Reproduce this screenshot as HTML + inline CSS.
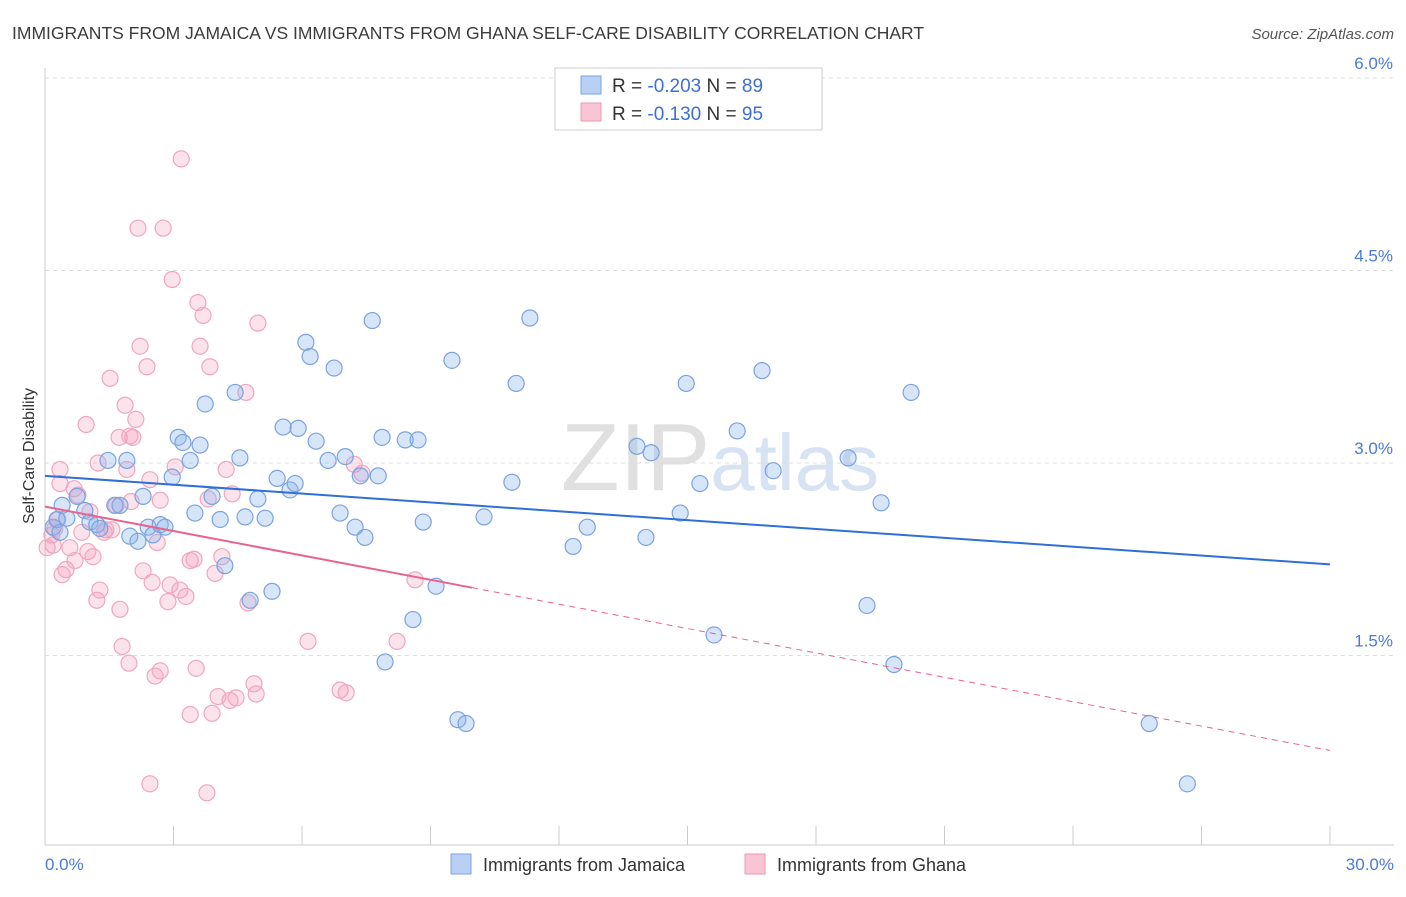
<!DOCTYPE html>
<html><head><meta charset="utf-8"><style>
body{margin:0;background:#fff;width:1406px;height:892px;overflow:hidden;font-family:"Liberation Sans",sans-serif}
svg text{font-family:"Liberation Sans",sans-serif}
</style></head><body>
<svg id="chart" width="1406" height="892" xmlns="http://www.w3.org/2000/svg">
<text x="12" y="39" font-size="17.5" fill="#3c3c3c">IMMIGRANTS FROM JAMAICA VS IMMIGRANTS FROM GHANA SELF-CARE DISABILITY CORRELATION CHART</text>
<text x="1394" y="39" font-size="15" fill="#555" font-style="italic" text-anchor="end">Source: ZipAtlas.com</text>
<text x="720" y="490" font-size="96" fill="#e4e4e4" text-anchor="middle" font-family="Liberation Serif"><tspan fill="#e0e0e0">ZIP</tspan><tspan fill="#d7e3f3" font-family="Liberation Sans" font-size="80">atlas</tspan></text>
<g id="grid"></g>
<line x1="45" y1="68" x2="45" y2="845" stroke="#ccc"/>
<line x1="45" y1="845" x2="1394" y2="845" stroke="#ccc"/>
<g id="ticks"></g>
<text transform="translate(34,456) rotate(-90)" font-size="16" fill="#333" text-anchor="middle">Self-Care Disability</text>
<text x="45" y="870" font-size="17" fill="#4a7bd8">0.0%</text>
<text x="1394" y="870" font-size="17" fill="#4a7bd8" text-anchor="end">30.0%</text>
<g id="pts"></g>
<g id="lines"></g>
<g>
<rect x="555" y="68" width="267" height="62" fill="#fff" stroke="#ccc"/>
<rect x="581" y="76" width="20" height="18" fill="#b8d0f3" stroke="#7aa3e0"/>
<rect x="581" y="103" width="20" height="18" fill="#f9c4d4" stroke="#eb9ab3"/>
<text x="612" y="92" font-size="19" fill="#333">R = <tspan fill="#3d6fd6">-0.203</tspan>   N = <tspan fill="#3d6fd6">89</tspan></text>
<text x="612" y="120" font-size="19" fill="#333">R =  <tspan fill="#3d6fd6">-0.130</tspan>   N = <tspan fill="#3d6fd6">95</tspan></text>
</g>
<g>
<rect x="451" y="854" width="20" height="20" fill="#b8d0f3" stroke="#7aa3e0"/>
<text x="483" y="871" font-size="18" fill="#333">Immigrants from Jamaica</text>
<rect x="745" y="854" width="20" height="20" fill="#f9c4d4" stroke="#eb9ab3"/>
<text x="777" y="871" font-size="18" fill="#333">Immigrants from Ghana</text>
</g>
</svg>
<script>
const yTicks=[1.5,3.0,4.5,6.0];
const xTickVals=[0,3,6,9,12,15,18,21,24,27,30];
const jamX=[0.19,0.28,0.35,0.40,0.51,0.75,0.93,1.05,1.21,1.28,1.47,1.63,1.75,1.91,1.98,2.17,2.29,2.41,2.52,2.69,2.80,2.97,3.11,3.22,3.39,3.50,3.62,3.74,3.90,4.09,4.20,4.44,4.55,4.67,4.79,4.97,5.14,5.30,5.42,5.56,5.72,5.84,5.91,6.09,6.19,6.33,6.61,6.75,6.89,7.01,7.24,7.36,7.47,7.64,7.78,7.87,7.94,8.41,8.59,8.71,8.83,9.13,9.50,9.64,9.83,10.25,10.90,11.00,11.32,12.33,12.66,13.82,14.03,14.15,14.83,14.97,15.29,15.62,16.16,16.74,17.00,18.75,19.19,19.52,19.82,20.22,25.78,26.67];
const jamY=[2.50,2.56,2.46,2.67,2.57,2.74,2.63,2.54,2.52,2.49,3.02,2.67,2.67,3.02,2.43,2.39,2.74,2.50,2.44,2.52,2.50,2.89,3.20,3.16,3.02,2.61,3.14,3.46,2.74,2.56,2.20,3.55,3.04,2.58,1.93,2.72,2.57,2.00,2.88,3.28,2.79,2.84,3.27,3.94,3.83,3.17,3.02,3.74,2.61,3.05,2.50,2.90,2.42,4.11,2.90,3.20,1.45,3.18,1.78,3.18,2.54,2.04,3.80,1.00,0.97,2.58,2.85,3.62,4.13,2.35,2.50,3.13,2.42,3.08,2.61,3.62,2.84,1.66,3.25,3.72,2.94,3.04,1.89,2.69,1.43,3.55,0.97,0.50];
const ghaX=[0.16,0.19,0.23,0.30,0.35,0.40,0.49,0.58,0.68,0.77,0.86,0.96,1.00,1.05,1.12,1.21,1.24,1.28,1.38,1.42,1.52,1.56,1.66,1.75,1.80,1.87,1.91,1.96,2.01,2.05,2.12,2.17,2.22,2.29,2.38,2.45,2.50,2.57,2.62,2.69,2.76,2.87,2.92,2.97,3.04,3.18,3.29,3.39,3.48,3.53,3.57,3.62,3.69,3.78,3.81,3.85,3.90,3.97,4.04,4.13,4.23,4.32,4.37,4.46,4.69,4.74,4.88,4.93,4.97,6.14,6.89,7.03,7.22,7.40,8.22,8.64,1.73,1.98,2.45,3.15,0.35,0.05,0.70,2.69,3.39];
const ghaY=[2.44,2.36,2.49,2.56,2.84,2.13,2.17,2.34,2.80,2.75,2.46,3.30,2.31,2.62,2.27,1.93,3.00,2.01,2.46,2.48,3.66,2.48,2.67,1.86,1.57,3.45,2.95,1.44,2.70,3.20,3.34,4.83,3.91,2.16,3.75,0.50,2.07,1.34,2.38,1.38,4.83,1.92,2.05,4.43,2.97,5.37,1.96,1.04,2.25,1.40,4.25,3.91,4.15,0.43,2.72,3.75,1.05,2.14,1.18,2.27,2.95,1.15,2.76,1.17,3.55,1.91,1.28,1.20,4.09,1.61,1.23,1.21,2.99,2.92,1.61,2.09,3.20,3.21,2.87,2.01,2.95,2.34,2.24,2.71,2.24];
const jamTrend=[2.90,2.21];
const ghaTrend=[2.66,0.76];
const ghaSolidEnd=9.97;
const X0=45,X1=1330,Y0=848,PXPER=128.33;
const sx=v=>X0+v/30*(X1-X0);
const sy=v=>Y0-v*PXPER;
const NS='http://www.w3.org/2000/svg';
function mk(t,a,p){const e=document.createElementNS(NS,t);for(const k in a)e.setAttribute(k,a[k]);p.appendChild(e);return e;}
const grid=document.getElementById('grid');
yTicks.forEach(v=>{
 const l=mk('line',{x1:45,x2:1394,y1:sy(v),y2:sy(v),stroke:'#ddd','stroke-dasharray':'4,4'},grid);
 
 
 const t=mk('text',{x:1393,y:sy(v)-9,'font-size':17,fill:'#4a7bd8','text-anchor':'end'},grid);
 t.textContent=v.toFixed(1)+'%';
 
 
});
const ticks=document.getElementById('ticks');
xTickVals.forEach(v=>{
 const l=mk('line',{x1:sx(v),x2:sx(v),y1:826,y2:845,stroke:'#ccc'},ticks);
 
 
});
const pts=document.getElementById('pts');
ghaX.forEach((x,i)=>{
 const c=mk('circle',{cx:sx(x),cy:sy(ghaY[i]),r:8,fill:'rgba(245,160,190,0.3)',stroke:'#f0a6bf','stroke-width':1.2},pts);
 
 
});
jamX.forEach((x,i)=>{
 const c=mk('circle',{cx:sx(x),cy:sy(jamY[i]),r:8,fill:'rgba(140,180,235,0.35)',stroke:'#7aa3e0','stroke-width':1.2},pts);
 
 
});
const lines=document.getElementById('lines');
const gy=x=>ghaTrend[0]+(ghaTrend[1]-ghaTrend[0])*x/30;
let l1=mk('line',{x1:sx(0),y1:sy(jamTrend[0]),x2:sx(30),y2:sy(jamTrend[1]),stroke:'#2f6fd6','stroke-width':2},lines);


let l2=mk('line',{x1:sx(0),y1:sy(gy(0)),x2:sx(ghaSolidEnd),y2:sy(gy(ghaSolidEnd)),stroke:'#e8648f','stroke-width':2},lines);


let l3=mk('line',{x1:sx(ghaSolidEnd),y1:sy(gy(ghaSolidEnd)),x2:sx(30),y2:sy(gy(30)),stroke:'#e8648f','stroke-width':1,'stroke-dasharray':'6,5'},lines);


</script>
</body></html>
